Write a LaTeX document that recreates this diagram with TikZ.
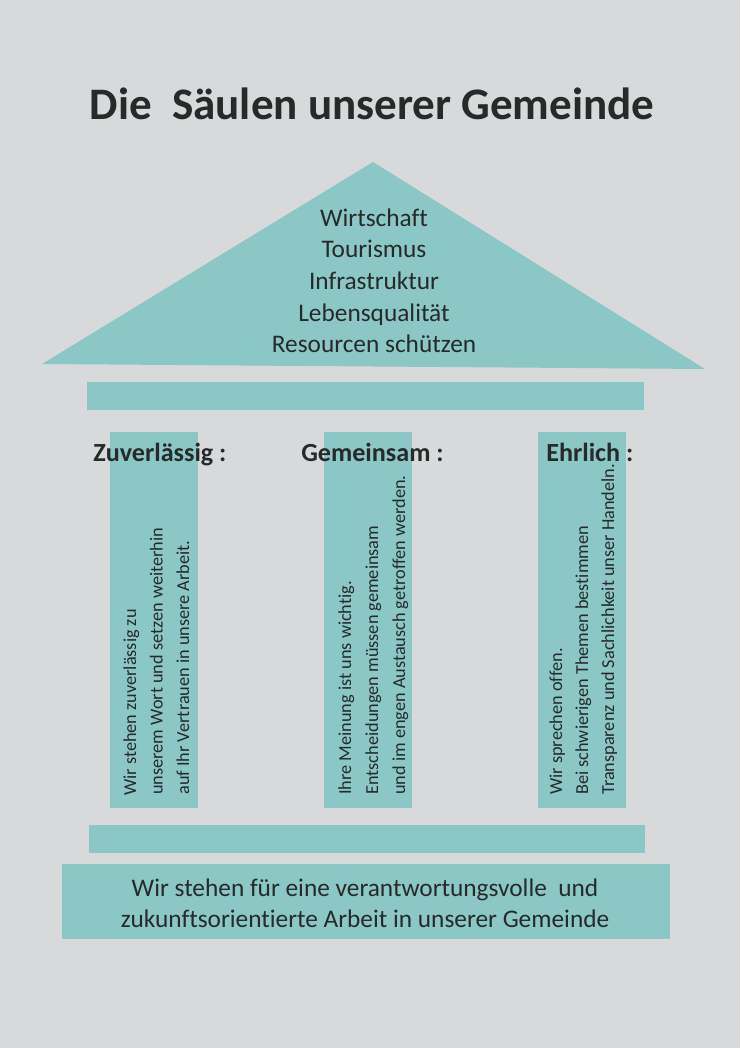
\documentclass[tikz,border=0pt]{standalone}
\usepackage{fontspec}
\setmainfont{Carlito}[Ligatures=CommonOff]
\definecolor{bg}{HTML}{D8D9DB}
\definecolor{teal}{HTML}{8BC7C5}
\definecolor{ink}{HTML}{262A29}
\begin{document}
\begin{tikzpicture}[x=0.75pt,y=-0.75pt,
  slab/.style={fill=teal,draw=none},
  txt/.style={inner sep=0pt,text=ink,anchor=base},
  ttl/.style={txt,font=\fontsize{33.8}{40}\selectfont\bfseries},
  ped/.style={txt,font=\fontsize{19}{23}\selectfont},
  lbl/.style={txt,anchor=base west,font=\fontsize{19.6}{23}\selectfont\bfseries},
  coltxt/.style={txt,anchor=base west,rotate=90,font=\fontsize{13.7}{17}\selectfont}]
\fill[bg] (0,0) rectangle (740,1048);
\useasboundingbox (0,0) rectangle (740,1048);
% title
\node[ttl] (title) at (372,120) {Die\ \ Säulen unserer Gemeinde};
% pediment
\fill[teal] (373,162) coordinate (apex) -- (42,364) coordinate (bl) -- (705,369) coordinate (br) -- cycle;
\node[ped] (p1) at (374,227) {Wirtschaft};
\node[ped] (p2) at (374,258) {Tourismus};
\node[ped] (p3) at (374,290) {Infrastruktur};
\node[ped] (p4) at (374,321) {Lebensqualität};
\node[ped] (p5) at (374,352) {Resourcen schützen};
% architrave
\fill[slab] (87,382) rectangle (644,410);
% columns
\fill[slab] (110,432) rectangle (198,808);
\fill[slab] (324,432) rectangle (412,808);
\fill[slab] (538,432) rectangle (626,808);
% labels
\node[lbl] (l1) at (93,461) {Zuverlässig :};
\node[lbl] (l2) at (301,461) {Gemeinsam :};
\node[lbl] (l3) at (546,461) {Ehrlich :};
% column texts
\node[coltxt] (a1) at (136,796) {Wir stehen zuverlässig zu};
\node[coltxt] (a2) at (162.5,795) {unserem Wort und setzen weiterhin};
\node[coltxt] (a3) at (189,795) {auf Ihr Vertrauen in unsere Arbeit.};
\node[coltxt] (b1) at (351,795) {Ihre Meinung ist uns wichtig.};
\node[coltxt] (b2) at (378,795) {Entscheidungen müssen gemeinsam};
\node[coltxt] (b3) at (405,795) {und im engen Austausch getroffen werden.};
\node[coltxt] (c1) at (562,795) {Wir sprechen offen.};
\node[coltxt] (c2) at (588,795) {Bei schwierigen Themen bestimmen};
\node[coltxt] (c3) at (614,795) {Transparenz und Sachlichkeit unser Handeln.};
% stylobate
\fill[slab] (89,825) rectangle (645,853);
\fill[slab] (62,864) rectangle (670,939);
\node[ped] (f1) at (365,896) {Wir stehen für eine verantwortungsvolle\ \ und};
\node[ped] (f2) at (365,927) {zukunftsorientierte Arbeit in unserer Gemeinde};
\end{tikzpicture}
\end{document}
